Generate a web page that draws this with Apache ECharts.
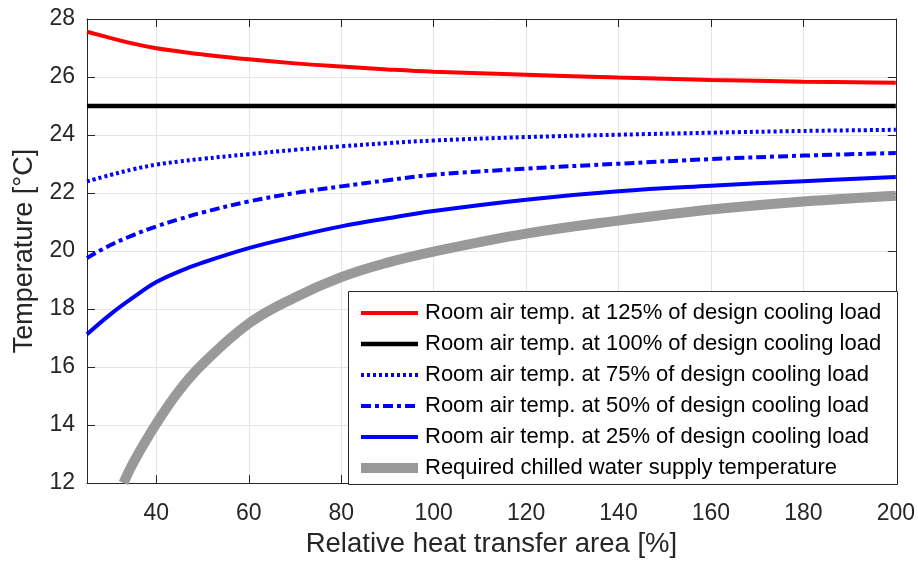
<!DOCTYPE html>
<html>
<head>
<meta charset="utf-8">
<script src="https://cdn.jsdelivr.net/npm/echarts@6/dist/echarts.min.js"></script>
<style>
  html, body { margin: 0; padding: 0; background: #fff; }
  #chart { width: 918px; height: 563px; }
</style>
</head>
<body>
<div id="chart"></div>
<script>
// relative heat transfer area [%]
const areaX = [25, 30, 35, 40, 45, 50, 60, 70, 80, 90, 100, 120, 140, 160, 180, 200];
// room air temperature at various loads [°C]
const load125 = [27.56, 27.35, 27.15, 26.99, 26.88, 26.78, 26.61, 26.47, 26.36, 26.26, 26.18, 26.08, 25.98, 25.90, 25.84, 25.80];
const load100 = [25, 25, 25, 25, 25, 25, 25, 25, 25, 25, 25, 25, 25, 25, 25, 25];
const load75 = [22.40, 22.62, 22.82, 22.98, 23.09, 23.18, 23.34, 23.49, 23.61, 23.72, 23.81, 23.93, 24.01, 24.08, 24.14, 24.18];
const load50 = [19.76, 20.20, 20.55, 20.85, 21.10, 21.33, 21.71, 22.00, 22.23, 22.44, 22.63, 22.84, 23.01, 23.17, 23.29, 23.38];
const load25 = [17.13, 17.81, 18.40, 18.93, 19.30, 19.60, 20.10, 20.50, 20.85, 21.13, 21.38, 21.77, 22.06, 22.25, 22.41, 22.55];
// required chilled water supply temperature
const waterX = [32.9, 35, 40, 45, 50, 60, 70, 80, 90, 100, 120, 140, 160, 180, 200];
const waterT = [12.0, 12.7, 14.05, 15.2, 16.1, 17.5, 18.4, 19.1, 19.6, 19.98, 20.6, 21.05, 21.43, 21.71, 21.91];

const xTicks = [40, 60, 80, 100, 120, 140, 160, 180, 200];

const names = [
  'Room air temp. at 125% of design cooling load',
  'Room air temp. at 100% of design cooling load',
  'Room air temp. at 75% of design cooling load',
  'Room air temp. at 50% of design cooling load',
  'Room air temp. at 25% of design cooling load',
  'Required chilled water supply temperature'
];

const pair = (xs, ys) => xs.map((x, i) => [x, ys[i]]);

const chart = echarts.init(document.getElementById('chart'));
const axisCol = '#262626';
const gridCol = '#e5e5e5';
const font = 'Liberation Sans, Arial, sans-serif';

function line(name, data, color, width, type) {
  return {
    name: name,
    type: 'line',
    data: data,
    smooth: 0.4,
    symbol: 'none',
    clip: true,
    lineStyle: { color: color, width: width, type: type || 'solid', cap: 'butt' },
    itemStyle: { color: color }
  };
}

const xBase = {
  type: 'value', min: 25, max: 200,
  axisLine: { lineStyle: { color: axisCol, width: 1 } },
  axisTick: { inside: true, length: 8, customValues: xTicks, lineStyle: { color: axisCol } }
};
const yBase = {
  type: 'value', min: 12, max: 28, interval: 2,
  axisLine: { show: true, lineStyle: { color: axisCol, width: 1 } },
  axisTick: { show: true, inside: true, length: 8, lineStyle: { color: axisCol } }
};

chart.setOption({
  animation: false,
  textStyle: { fontFamily: font },
  grid: { left: 87, right: 20, top: 19, bottom: 79 },
  xAxis: [Object.assign({}, xBase, {
    name: 'Relative heat transfer area [%]',
    nameLocation: 'middle', nameGap: 42,
    nameTextStyle: { fontSize: 27.5, color: axisCol, fontFamily: font },
    axisLabel: { customValues: xTicks, fontSize: 23, color: axisCol, margin: 19, fontFamily: font },
    splitLine: { show: true, lineStyle: { color: gridCol, width: 1 } }
  }), Object.assign({}, xBase, {
    position: 'top',
    axisLabel: { show: false },
    splitLine: { show: false }
  })],
  yAxis: [Object.assign({}, yBase, {
    name: 'Temperature [°C]',
    nameLocation: 'middle', nameGap: 48,
    nameTextStyle: { fontSize: 27, color: axisCol, fontFamily: font },
    axisLabel: { fontSize: 23, color: axisCol, margin: 12, fontFamily: font },
    splitLine: { show: true, lineStyle: { color: gridCol, width: 1 } }
  }), Object.assign({}, yBase, {
    position: 'right',
    axisLabel: { show: false },
    splitLine: { show: false }
  })],
  graphic: [{
    type: 'rect', z: 3,
    shape: { x: 348.5, y: 291.5, width: 549, height: 193 },
    style: { fill: '#fff', stroke: axisCol, lineWidth: 1 }
  }],
  legend: {
    data: names,
    orient: 'vertical',
    left: 356, top: 302,
    padding: 0,
    itemWidth: 57, itemHeight: 14, itemGap: 9,
    itemStyle: { opacity: 0 },
    lineStyle: { width: 'inherit' },
    textStyle: { fontSize: 22, lineHeight: 22, color: '#000', fontFamily: font, padding: [0, 0, 0, 2] },
    selectedMode: false,
    z: 4
  },
  series: [
    line(names[0], pair(areaX, load125), '#ff0000', 4),
    line(names[1], pair(areaX, load100), '#000000', 4.5),
    line(names[2], pair(areaX, load75), '#0000ff', 4, [3, 3]),
    line(names[3], pair(areaX, load50), '#0000ff', 4, [10, 4, 4, 4]),
    line(names[4], pair(areaX, load25), '#0000ff', 4),
    line(names[5], pair(waterX, waterT), '#999999', 10)
  ]
});
</script>
</body>
</html>
